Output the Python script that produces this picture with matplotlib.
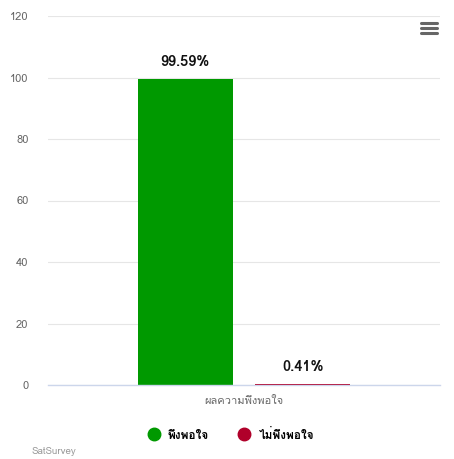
import matplotlib
matplotlib.use("Agg")
import matplotlib.pyplot as plt
from matplotlib import font_manager
from matplotlib.lines import Line2D
from matplotlib.ft2font import FT2Font

categories = ["ผลความพึงพอใจ"]
series_names = ["พึงพอใจ", "ไม่พึงพอใจ"]
series_values = [99.59, 0.41]
series_labels = ["99.59%", "0.41%"]
series_colors = ["#009900", "#b0002a"]
yticks = [0, 20, 40, 60, 80, 100, 120]
credit = "SatSurvey"

# find a font with Thai glyphs
thai_family = None
for f in font_manager.fontManager.ttflist:
    try:
        ft = FT2Font(f.fname)
        if ft.get_char_index(0x0E1C) and ft.get_char_index(0x0E07):
            thai_family = f.name
            break
    except Exception:
        pass
fams = ([thai_family] if thai_family else []) + ["DejaVu Sans"]
plt.rcParams['font.family'] = fams

fig = plt.figure(figsize=(4.54, 4.59), dpi=100)
ax = fig.add_axes([48/454, 1-385/459, (440-48)/454, (385-16)/459])

offsets = [-0.15, 0.15]
width = 0.242
for i, (v, c, lab) in enumerate(zip(series_values, series_colors, series_labels)):
    ax.bar(offsets[i], v, width=width, color=c, zorder=2)
    ax.annotate(lab, (offsets[i], v), xytext=(0, 7), textcoords="offset points",
                ha="center", va="bottom", fontsize=10.5, fontweight="bold", color="#111111")

ax.set_xlim(-0.5, 0.5)
ax.set_ylim(0, 120)
ax.set_yticks(yticks)
ax.set_yticklabels([str(t) for t in yticks], color="#666666", fontsize=8)
ax.set_xticks([0])
ax.set_xticklabels(categories, color="#666666", fontsize=8)
ax.tick_params(axis="y", length=0, pad=14)
ax.tick_params(axis="x", length=0, pad=8)
ax.grid(axis="y", color="#e6e6e6", linewidth=0.8, zorder=0)
for s in ["top", "right", "left"]:
    ax.spines[s].set_visible(False)
ax.spines["bottom"].set_color("#ccd6eb")
ax.spines["bottom"].set_linewidth(1.0)
ax.spines["bottom"].set_zorder(4)

handles = [Line2D([0], [0], marker="o", linestyle="none", markersize=9,
                  markerfacecolor=c, markeredgecolor=c) for c in series_colors]
fig.legend(handles, series_names, loc="center", bbox_to_anchor=(228/454, 1-434/459),
           ncol=2, frameon=False, handletextpad=0.2, columnspacing=2.0,
           prop={"weight": "bold", "size": 8.5})

fig.text(32/454, 1-452/459, credit, fontsize=7, color="#999999", ha="left", va="center")

# menu icon
for yy in [23, 28, 33]:
    fig.add_artist(Line2D([421/454, 437/454], [1-yy/459, 1-yy/459], color="#666666",
                          linewidth=2.2, solid_capstyle="round"))

fig.savefig("out.png", dpi=100)
